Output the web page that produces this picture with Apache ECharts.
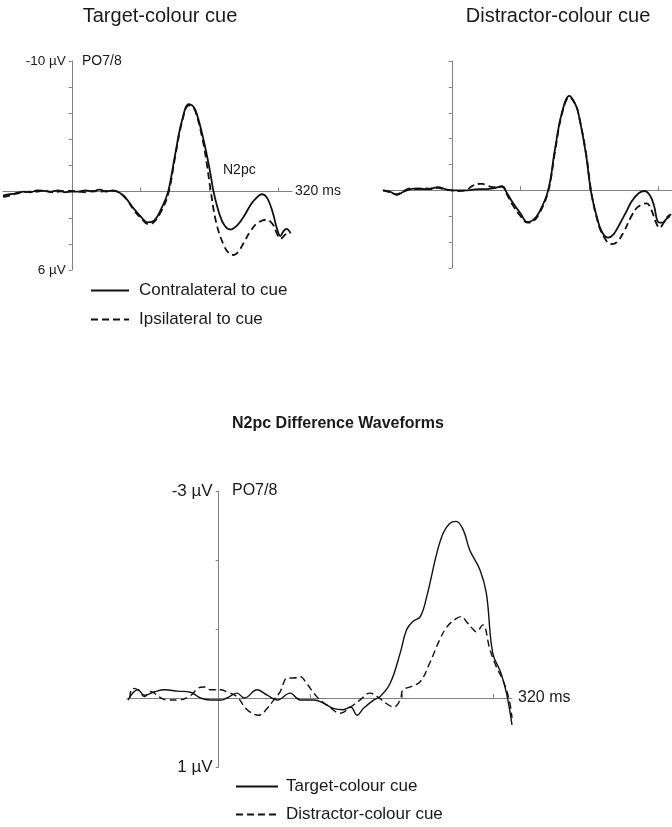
<!DOCTYPE html>
<html>
<head>
<meta charset="utf-8">
<script src="https://cdn.jsdelivr.net/npm/echarts@6/dist/echarts.min.js"></script>
<style>html,body{margin:0;padding:0;background:#fff}#c{width:672px;height:827px}</style>
</head>
<body>
<div id="c"></div>
<script>
// Top-left: Target-colour cue (ms, µV; negative plotted up)
const tlContraT = [-100,-90,-80,-70,-60,-50,-40,-30,-20,-10,0,10,20,30,40,50,60,70,80,90,100,110,120,130,140,150,160,170,175,180,190,200,206,215,222,230,240,250,260,268,276,284,292,298,303,308,312,318];
const tlContraV = [0.3,0.2,0.15,0.0,0.05,-0.1,-0.05,0.0,-0.1,0.05,0,0.0,-0.1,0.0,-0.15,0.0,-0.1,0.1,0.6,1.3,1.9,2.35,2.2,1.3,0,-2.8,-5.4,-6.7,-6.6,-6.2,-4.3,-1.8,0,1.8,2.6,2.9,2.6,1.9,1.0,0.5,0.2,0.5,1.6,2.8,3.4,3.0,2.85,3.2];
const tlIpsiT = [-100,-90,-80,-70,-60,-50,-40,-30,-20,-10,0,10,20,30,40,50,60,70,80,90,100,112,120,130,140,150,160,170,175,180,190,196,202,210,220,228,235,242,250,260,270,283,292,298,303,310,315];
const tlIpsiV = [0.4,0.3,0.1,0.05,0.0,0.0,-0.1,0.05,0.0,-0.05,-0.05,0.0,0.05,-0.05,0.0,-0.05,-0.05,0.1,0.6,1.4,2.0,2.5,2.3,1.5,0.2,-2.6,-5.3,-6.6,-6.5,-6.1,-4.0,-2.2,0,2.4,4.0,4.7,4.85,4.6,3.9,3.0,2.4,2.15,2.5,3.2,3.6,3.3,2.95];

// Top-right: Distractor-colour cue
const trContraT = [-100,-90,-80,-70,-60,-50,-40,-30,-20,-10,0,10,20,30,40,50,60,73,80,88,100,110,118,127,140,150,160,171,180,185,195,202,210,218,227,235,245,253,262,272,280,288,294,300,306,312,317];
const trContraV = [0,0.1,0.35,0.1,-0.1,-0.15,-0.1,-0.15,-0.25,-0.1,0,0,0,-0.05,-0.1,-0.1,-0.15,-0.3,0.2,0.9,1.8,2.45,2.3,1.7,0,-3.2,-6.0,-7.3,-6.6,-5.7,-2.8,0,1.9,3.2,3.65,3.4,2.5,1.7,0.8,0.2,0.05,0.4,1.2,2.45,2.5,2.2,2.0];
const trIpsiT = [-100,-90,-80,-70,-60,-50,-40,-30,-20,-10,0,10,20,30,40,45,50,60,73,80,88,100,110,118,127,140,150,160,171,180,185,195,202,210,220,232,240,250,260,270,283,290,296,302,308,314,319];
const trIpsiV = [0,0.15,0.3,0.05,-0.15,-0.1,-0.15,-0.1,-0.2,-0.05,0,0.05,0,-0.35,-0.5,-0.5,-0.4,-0.25,-0.3,0.3,1.1,2.0,2.5,2.4,1.8,0.1,-3.0,-5.9,-7.2,-6.6,-5.7,-2.9,-0.1,2.0,3.5,4.15,4.0,3.2,2.1,1.3,1.0,1.5,2.4,2.9,2.5,2.0,1.85];

// Bottom: N2pc difference waveforms
const dTargetT = [-99,-88,-81,-70,-59,-45,-30,-20,-9,2,9,20,28,42,53,64,78,89,104,115,125,136,144,151,158,169,176,187,198,205,212,220,227,238,245,252,259,267,274,285,292,299,308,314,320];
const dTargetV = [0.03,-0.12,-0.04,-0.09,-0.12,-0.10,-0.08,0.0,0.03,0.03,0.0,-0.07,0.0,-0.12,-0.04,0.03,-0.07,0.03,0.03,0.08,0.15,0.17,0.13,0.25,0.15,0.03,-0.02,-0.21,-0.65,-0.99,-1.11,-1.18,-1.47,-2.10,-2.39,-2.53,-2.56,-2.43,-2.14,-1.86,-1.52,-0.65,-0.36,-0.07,0.39];
const dDistT = [-97,-94,-88,-81,-74,-63,-56,-45,-30,-23,-16,-9,2,9,20,31,44,53,60,67,75,82,89,96,107,118,133,144,154,165,173,183,191,198,201,209,220,230,241,249,259,265,270,278,281,288,296,303,310,317,320];
const dDistV = [0.0,-0.14,-0.12,-0.02,-0.09,0.0,0.03,0.03,-0.04,-0.14,-0.16,-0.12,-0.12,-0.09,-0.02,0.17,0.25,0.15,0.03,-0.09,-0.29,-0.29,-0.31,-0.21,-0.02,0.10,0.22,0.13,0.03,-0.07,-0.02,0.08,0.13,0.03,-0.12,-0.16,-0.24,-0.50,-0.84,-1.03,-1.15,-1.18,-1.11,-0.99,-0.96,-1.06,-0.70,-0.45,-0.26,0.03,0.29];

const X_MIN = -100, X_MAX = 320;
const pairs = (t, v) => t.map((x, i) => [x, v[i]]);
const AX = '#808080', TXT = '#1a1a1a', FONT = 'Liberation Sans, Arial, sans-serif';

const grids = [
  { left: 3, top: 61, width: 289, height: 209 },
  { left: 383, top: 61, width: 289, height: 207 },
  { left: 127, top: 491, width: 385, height: 276 }
];
// distance from grid left edge to the x = 0 ms position (y-axis sits there)
const zeroOffset = g => g.width * (0 - X_MIN) / (X_MAX - X_MIN);

function xAxis(gi, fs, gap) {
  return {
    type: 'value', gridIndex: gi, min: X_MIN, max: X_MAX, interval: 100,
    axisLine: { onZero: true, lineStyle: { color: AX, width: 1 } },
    axisTick: { inside: true, length: 4, customValues: [100, 200, 300], lineStyle: { color: AX } },
    axisLabel: { show: false }, splitLine: { show: false },
    name: '320 ms', nameLocation: 'end', nameGap: gap,
    nameTextStyle: { color: TXT, fontSize: fs, fontFamily: FONT }
  };
}
function yAxis(gi, min, max, interval, showLabels, fs) {
  return {
    type: 'value', gridIndex: gi, min, max, interval, inverse: true,
    offset: -zeroOffset(grids[gi]),
    axisLine: { show: true, onZero: false, lineStyle: { color: AX, width: 1 } },
    axisTick: { show: true, length: 3, lineStyle: { color: AX } },
    axisLabel: {
      show: showLabels, margin: 6, color: TXT, fontSize: fs, fontFamily: FONT,
      formatter: v => (v === min || v === max) ? v + ' µV' : ''
    },
    splitLine: { show: false }
  };
}
function line(name, gi, data, dashed, w) {
  return {
    type: 'line', name, xAxisIndex: gi, yAxisIndex: gi, data,
    smooth: 0.4, symbol: 'none', showSymbol: false, silent: true,
    lineStyle: { color: '#111', width: w, type: dashed ? [7, 4] : 'solid' },
    itemStyle: { color: '#111' }
  };
}

const chart = echarts.init(document.getElementById('c'), null, { renderer: 'canvas' });
chart.setOption({
  animation: false,
  backgroundColor: '#fff',
  textStyle: { fontFamily: FONT },
  title: [
    { text: 'Target-colour cue', left: 155, top: 1, textAlign: 'center', textStyle: { fontSize: 20, fontWeight: 'normal', color: TXT, fontFamily: FONT } },
    { text: 'Distractor-colour cue', left: 553, top: 1, textAlign: 'center', textStyle: { fontSize: 20, fontWeight: 'normal', color: TXT, fontFamily: FONT } },
    { text: 'N2pc Difference Waveforms', left: 333, top: 411, textAlign: 'center', textStyle: { fontSize: 16, fontWeight: 'bold', color: TXT, fontFamily: FONT } }
  ],
  grid: grids.map(g => Object.assign({ containLabel: false, outerBoundsMode: 'none' }, g)),
  xAxis: [xAxis(0, 14, 3), xAxis(1, 14, 3), xAxis(2, 16, 6)],
  yAxis: [yAxis(0, -10, 6, 2, true, 13.5), yAxis(1, -10, 6, 2, false, 13.5), yAxis(2, -3, 1, 1, true, 17)],
  legend: [
    { data: ['Contralateral to cue', 'Ipsilateral to cue'], orient: 'vertical', left: 90, top: 282, padding: 0,
      itemWidth: 38, itemHeight: 14, itemGap: 12, selectedMode: false, itemStyle: { opacity: 0 },
      textStyle: { color: TXT, fontSize: 17, fontFamily: FONT, padding: [0, 0, 0, 5] } },
    { data: ['Target-colour cue', 'Distractor-colour cue'], orient: 'vertical', left: 235, top: 778, padding: 0,
      itemWidth: 42, itemHeight: 14, itemGap: 11, selectedMode: false, itemStyle: { opacity: 0 },
      textStyle: { color: TXT, fontSize: 17, fontFamily: FONT, padding: [0, 0, 0, 3] } }
  ],
  graphic: [
    { type: 'text', left: 82, top: 54, style: { text: 'PO7/8', fill: TXT, fontSize: 14, fontFamily: FONT } },
    { type: 'text', left: 223, top: 163, style: { text: 'N2pc', fill: TXT, fontSize: 14, fontFamily: FONT } },
    { type: 'text', left: 232, top: 483, style: { text: 'PO7/8', fill: TXT, fontSize: 16, fontFamily: FONT } }
  ],
  series: [
    line('Contralateral to cue', 0, pairs(tlContraT, tlContraV), false, 1.8),
    line('Ipsilateral to cue', 0, pairs(tlIpsiT, tlIpsiV), true, 1.8),
    line('Contralateral to cue', 1, pairs(trContraT, trContraV), false, 1.8),
    line('Ipsilateral to cue', 1, pairs(trIpsiT, trIpsiV), true, 1.8),
    line('Target-colour cue', 2, pairs(dTargetT, dTargetV), false, 1.4),
    line('Distractor-colour cue', 2, pairs(dDistT, dDistV), true, 1.4)
  ]
});
</script>
</body>
</html>
